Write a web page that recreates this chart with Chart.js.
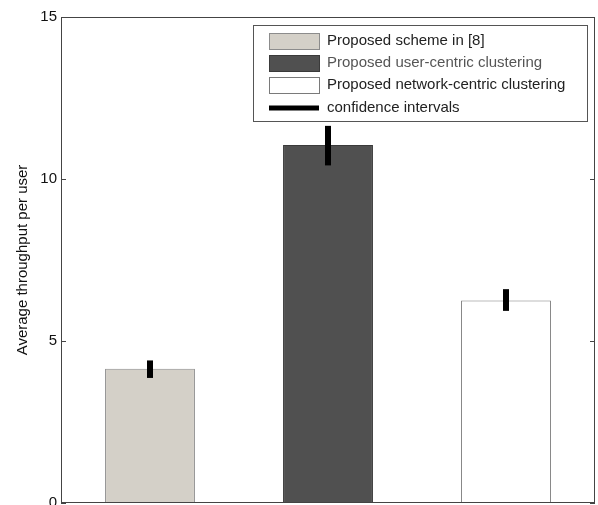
<!DOCTYPE html>
<html>
<head>
<meta charset="utf-8">
<script src="https://cdn.jsdelivr.net/npm/chart.js@4/dist/chart.umd.min.js"></script>
<style>
  html, body { margin: 0; padding: 0; background: #fff; }
  #wrap { width: 598px; height: 505px; }
</style>
</head>
<body>
<div id="wrap"><canvas id="c" width="598" height="505"></canvas></div>
<script>
const categories = ['Proposed scheme in [8]', 'Proposed user-centric clustering', 'Proposed network-centric clustering'];
const throughput = [4.14, 11.05, 6.25];
const ciLow = [3.86, 10.42, 5.93];
const ciHigh = [4.40, 11.64, 6.60];
const yTicks = [0, 5, 10, 15];
const fills = ['#d4d0c8', '#505050', '#ffffff'];
const borders = ['#8c8c8c', '#3a3a3a', '#7a7a7a'];
const legendTextColors = ['#222', '#555', '#222'];

const FONT = '"Liberation Sans", Arial, sans-serif';

// box round the axes with inward ticks, matlab style
const boxPlugin = {
  id: 'box',
  afterDatasetsDraw(chart) {
    const { ctx, chartArea: a, scales } = chart;
    ctx.save();
    ctx.strokeStyle = '#444';
    ctx.lineWidth = 1;
    ctx.strokeRect(a.left + 0.5, a.top + 0.5, a.right - a.left - 1, a.bottom - a.top - 1);
    ctx.beginPath();
    yTicks.forEach(v => {
      const y = Math.round(scales.y.getPixelForValue(v)) + 0.5;
      ctx.moveTo(a.left, y); ctx.lineTo(a.left + 5, y);
      ctx.moveTo(a.right, y); ctx.lineTo(a.right - 5, y);
    });
    ctx.stroke();
    ctx.restore();
  }
};

const errorPlugin = {
  id: 'errors',
  afterDatasetsDraw(chart) {
    const { ctx, scales } = chart;
    ctx.save();
    ctx.fillStyle = '#000';
    categories.forEach((c, i) => {
      const x = scales.x.getPixelForValue(i);
      const y1 = scales.y.getPixelForValue(ciHigh[i]);
      const y2 = scales.y.getPixelForValue(ciLow[i]);
      ctx.fillRect(x - 3, y1, 6, y2 - y1);
    });
    ctx.restore();
  }
};

const legendPlugin = {
  id: 'boxLegend',
  afterDraw(chart) {
    const { ctx, chartArea: a } = chart;
    const left = a.left + 192, top = a.top + 8, w = 334, h = 96;
    ctx.save();
    ctx.fillStyle = '#fff';
    ctx.fillRect(left, top, w, h);
    ctx.strokeStyle = '#555';
    ctx.lineWidth = 1;
    ctx.strokeRect(left + 0.5, top + 0.5, w, h);
    ctx.font = '15px ' + FONT;
    ctx.textBaseline = 'middle';
    const rows = [16, 38, 60, 83];
    categories.forEach((c, i) => {
      const y = top + rows[i];
      ctx.fillStyle = fills[i];
      ctx.fillRect(left + 16, y - 8, 50, 16);
      ctx.strokeStyle = borders[i];
      ctx.strokeRect(left + 16.5, y - 7.5, 50, 16);
      ctx.fillStyle = legendTextColors[i];
      ctx.fillText(c, left + 74, y);
    });
    const y = top + rows[3];
    ctx.fillStyle = '#000';
    ctx.fillRect(left + 16, y - 2.5, 50, 5);
    ctx.fillStyle = '#222';
    ctx.fillText('confidence intervals', left + 74, y);
    ctx.restore();
  }
};

new Chart(document.getElementById('c'), {
  type: 'bar',
  data: {
    labels: categories,
    datasets: [{
      data: throughput,
      backgroundColor: fills,
      borderColor: borders,
      borderWidth: 1,
      barPercentage: 0.505,
      categoryPercentage: 1
    }]
  },
  options: {
    responsive: false,
    animation: false,
    layout: { padding: { top: 17, right: 3, left: 0, bottom: 0 } },
    plugins: { legend: { display: false }, tooltip: { enabled: false } },
    scales: {
      x: {
        grid: { display: false },
        border: { display: false },
        ticks: { display: false },
        afterFit(s) { s.height = 2; s.paddingLeft = 0; s.paddingRight = 0; }
      },
      y: {
        min: 0, max: 15,
        afterBuildTicks(s) { s.ticks = yTicks.map(v => ({ value: v })); },
        grid: { display: false, drawTicks: false, tickLength: 0 },
        border: { display: false },
        ticks: { color: '#111', font: { family: FONT, size: 15 }, padding: 4 },
        title: {
          display: true,
          text: 'Average throughput per user',
          color: '#111',
          font: { family: FONT, size: 15 },
          padding: { top: 14, bottom: 0 }
        },
        afterFit(s) { s.width = 61; s.paddingTop = 0; s.paddingBottom = 0; }
      }
    }
  },
  plugins: [boxPlugin, errorPlugin, legendPlugin]
});
</script>
</body>
</html>
